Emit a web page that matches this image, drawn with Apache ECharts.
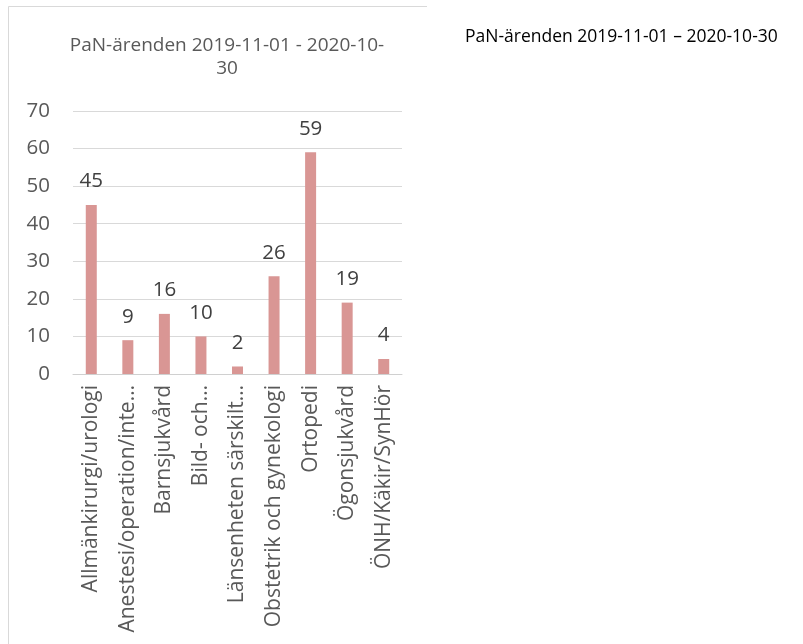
<!DOCTYPE html>
<html>
<head>
<meta charset="utf-8">
<script src="https://cdn.jsdelivr.net/npm/echarts@6/dist/echarts.min.js"></script>
<style>
html,body{margin:0;padding:0;background:#fff;}
#chart{width:803px;height:644px;}
</style>
</head>
<body>
<div id="chart"></div>
<script>
var categories = ['Allmänkirurgi/urologi','Anestesi/operation/inte…','Barnsjukvård','Bild- och…','Länsenheten särskilt…','Obstetrik och gynekologi','Ortopedi','Ögonsjukvård','ÖNH/Käkir/SynHör'];
var values = [45, 9, 16, 10, 2, 26, 59, 19, 4];
var yTicks = [0, 10, 20, 30, 40, 50, 60, 70];
var chartTitle = 'PaN-ärenden 2019-11-01 - 2020-10-\n30';
var sideText = 'PaN-ärenden 2019-11-01 – 2020-10-30';

var FONT = '"Open Sans", sans-serif';
var chart = echarts.init(document.getElementById('chart'), null, {renderer:'canvas'});
chart.setOption({
  animation:false,
  backgroundColor:'#ffffff',
  title:{
    text:chartTitle,
    left:222, top:29, textAlign:'center',
    textStyle:{fontFamily:FONT, fontSize:19, fontWeight:'normal', color:'#595959', lineHeight:23}
  },
  graphic:[
    {type:'line', shape:{x1:8.5,y1:6.5,x2:427,y2:6.5}, style:{stroke:'#d9d9d9', lineWidth:1}},
    {type:'line', shape:{x1:8.5,y1:6.5,x2:8.5,y2:644}, style:{stroke:'#d9d9d9', lineWidth:1}},
    {type:'text', left:465, top:28, style:{text:sideText, font:'17.5px ' + FONT, fill:'#000000'}}
  ],
  grid:{left:73, right:401, top:111, bottom:270, containLabel:false},
  xAxis:{
    type:'category',
    data:categories,
    axisLine:{lineStyle:{color:'#d0d0d0'}},
    axisTick:{show:false},
    axisLabel:{
      rotate:90, interval:0, margin:11,
      fontFamily:FONT, fontSize:21, color:'#595959'
    }
  },
  yAxis:{
    type:'value', min:yTicks[0], max:yTicks[yTicks.length-1], interval:10,
    axisLine:{show:false}, axisTick:{show:false},
    splitLine:{lineStyle:{color:'#d9d9d9'}},
    axisLabel:{margin:23, fontFamily:FONT, fontSize:20.5, color:'#595959'}
  },
  series:[{
    type:'bar',
    data:values,
    barWidth:11,
    itemStyle:{color:'#d99694'},
    label:{show:true, position:'top', distance:13, fontFamily:FONT, fontSize:20.5, color:'#404040'}
  }]
});
</script>
</body>
</html>
